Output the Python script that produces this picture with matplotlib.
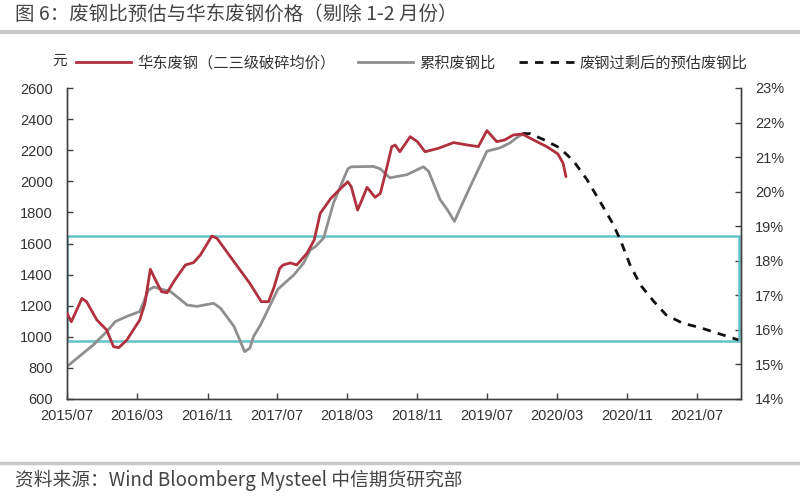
import matplotlib
matplotlib.use("Agg")
import matplotlib.pyplot as plt
from matplotlib.lines import Line2D
from matplotlib.patches import Rectangle
from matplotlib.transforms import blended_transform_factory
import pandas as pd

plt.rcParams['font.family'] = ['Liberation Sans', 'Noto Sans CJK SC', 'DejaVu Sans']

# ---------------- data ----------------
price_dates = ["2015-07-01", "2015-07-16", "2015-08-22", "2015-09-07", "2015-10-13", "2015-11-16",
               "2015-12-10", "2015-12-28", "2016-01-25", "2016-03-10", "2016-03-28", "2016-04-16",
               "2016-05-04", "2016-05-25", "2016-06-13", "2016-07-10", "2016-08-16", "2016-09-13",
               "2016-10-07", "2016-11-16", "2016-12-04", "2017-02-01", "2017-03-28", "2017-05-07",
               "2017-06-01", "2017-06-19", "2017-07-10", "2017-07-22", "2017-08-16", "2017-09-07",
               "2017-10-13", "2017-11-07", "2017-11-28", "2018-01-04", "2018-02-07", "2018-03-04",
               "2018-03-16", "2018-04-07", "2018-04-22", "2018-05-10", "2018-06-07", "2018-06-25",
               "2018-07-10", "2018-08-04", "2018-08-16", "2018-09-01", "2018-10-07", "2018-11-01",
               "2018-11-28", "2019-01-13", "2019-03-07", "2019-04-22", "2019-06-01", "2019-07-01",
               "2019-08-04", "2019-09-01", "2019-10-01", "2019-11-01", "2019-12-10", "2020-01-25",
               "2020-03-04", "2020-03-22", "2020-04-01"]
price_values = [1151, 1097, 1247, 1226, 1108, 1044,
                936, 930, 979, 1108, 1215, 1434,
                1365, 1290, 1283, 1365, 1462, 1477,
                1526, 1648, 1633, 1483, 1344, 1226,
                1226, 1312, 1440, 1462, 1475, 1462,
                1537, 1622, 1794, 1890, 1954, 1997,
                1965, 1815, 1880, 1961, 1897, 1922,
                2030, 2223, 2233, 2190, 2287, 2255,
                2190, 2212, 2249, 2234, 2223, 2326,
                2255, 2266, 2298, 2304, 2266, 2223,
                2176, 2116, 2030]

ratio_dates = ["2015-07-01", "2015-10-01", "2015-11-16", "2015-12-16", "2016-01-25", "2016-03-10",
               "2016-04-10", "2016-04-28", "2016-06-25", "2016-07-16", "2016-08-22", "2016-09-25",
               "2016-11-22", "2016-12-16", "2017-02-01", "2017-03-10", "2017-03-28", "2017-04-10",
               "2017-05-04", "2017-07-04", "2017-08-28", "2017-10-01", "2017-10-25", "2017-11-10",
               "2017-12-10", "2018-01-13", "2018-03-04", "2018-03-16", "2018-06-01", "2018-06-25",
               "2018-07-28", "2018-09-25", "2018-11-22", "2018-12-10", "2019-01-19", "2019-02-13",
               "2019-03-10", "2019-03-28", "2019-05-04", "2019-07-01", "2019-08-16", "2019-09-19",
               "2019-10-19", "2019-11-10"]
ratio_values = [14.94, 15.57, 15.95, 16.24, 16.39, 16.53,
                17.16, 17.24, 17.11, 16.97, 16.72, 16.68,
                16.77, 16.63, 16.10, 15.37, 15.47, 15.81,
                16.14, 17.18, 17.59, 17.93, 18.32, 18.40,
                18.66, 19.67, 20.66, 20.72, 20.73, 20.66,
                20.40, 20.49, 20.72, 20.59, 19.77, 19.48,
                19.14, 19.48, 20.15, 21.17, 21.27, 21.41,
                21.60, 21.68]

forecast_dates = ["2019-11-01", "2019-11-28", "2020-01-13", "2020-03-10", "2020-04-28", "2020-06-13",
                  "2020-07-28", "2020-09-10", "2020-10-07", "2020-11-10", "2020-12-16", "2021-02-01",
                  "2021-03-16", "2021-05-13", "2021-07-10", "2021-09-19", "2021-11-22"]
forecast_values = [21.68, 21.68, 21.51, 21.27, 20.88, 20.35,
                   19.72, 19.09, 18.61, 17.88, 17.30, 16.82,
                   16.43, 16.19, 16.07, 15.88, 15.71]

box_low, box_high = 15.69, 18.72   # ratio band (%)

tick_dates = pd.date_range("2015-07-01", "2021-07-01", freq="8MS")
tick_labels = [d.strftime("%Y/%m") for d in tick_dates]

legend_labels = ["华东废钢（二三级破碎均价）", "累积废钢比", "废钢过剩后的预估废钢比"]
title_text = "图 6：废钢比预估与华东废钢价格（剔除 1-2 月份）"
source_text = "资料来源：Wind Bloomberg Mysteel 中信期货研究部"

# ---------------- style ----------------
RED = "#B0303E"
GRAY = "#8F8F8F"
CYAN = "#62C3CB"
AXC = "#404040"
TXT = "#333333"
CJK = ['Noto Sans CJK SC', 'DejaVu Sans']

fig = plt.figure(figsize=(8, 5), dpi=100)
fig.patch.set_facecolor("white")

ax = fig.add_axes([67/800, 1-399/500, (741-67)/800, (399-88)/500])
ax2 = ax.twinx()

ax.plot(pd.to_datetime(price_dates), price_values, color=RED, lw=2.0, zorder=4,
        solid_joinstyle="round", solid_capstyle="round")
ax2.plot(pd.to_datetime(ratio_dates), ratio_values, color=GRAY, lw=2.0, zorder=3,
         solid_joinstyle="round", solid_capstyle="round")
ax2.plot(pd.to_datetime(forecast_dates), forecast_values, color="#111111", lw=2.0,
         ls=(0, (3, 2.6)), zorder=3)

ax.set_xlim(pd.Timestamp("2015-07-01"), pd.Timestamp("2021-12-01"))
ax.set_ylim(600, 2600)
ax.set_yticks(range(600, 2601, 200))
ax2.set_ylim(14, 23)
ax2.set_yticks(range(14, 24))
ax2.set_yticklabels([f"{v}%" for v in range(14, 24)])
ax.set_xticks(tick_dates)
ax.set_xticklabels(tick_labels)

trans = blended_transform_factory(ax2.transAxes, ax2.transData)
ax2.add_patch(Rectangle((0, box_low), 0.9975, box_high - box_low, transform=trans,
                        fill=False, edgecolor=CYAN, lw=1.8, zorder=2))

for a in (ax, ax2):
    a.spines['top'].set_visible(False)
    for s in ('left', 'right', 'bottom'):
        a.spines[s].set_color(AXC)
        a.spines[s].set_linewidth(1.0)
    a.tick_params(direction='in', length=4, width=1, colors=AXC, labelcolor=TXT, labelsize=10.5)
ax.tick_params(axis='x', pad=7)
ax.tick_params(axis='y', pad=10)
ax2.tick_params(axis='y', pad=10)
ax.set_zorder(ax2.get_zorder() + 1)
ax.patch.set_visible(False)

# y unit label
fig.text(60/800, 1-61/500, "元", ha='center', va='center', fontsize=10.5, color=TXT, family=CJK)

# legend
handles = [Line2D([], [], color=RED, lw=2.0),
           Line2D([], [], color=GRAY, lw=2.0),
           Line2D([], [], color="#111111", lw=2.0, ls=(0, (3, 2.6)))]
leg = fig.legend(handles, legend_labels, loc='center left', bbox_to_anchor=(76/800, 1-63/500),
                 ncol=3, frameon=False, handlelength=3.6, handletextpad=0.4, columnspacing=1.5,
                 prop={'family': CJK, 'size': 11}, borderaxespad=0, borderpad=0)
for t in leg.get_texts():
    t.set_color(TXT)

# title and rules
fig.text(15/800, 1-14/500, title_text, ha='left', va='center', fontsize=14, color="#444444", family=CJK)
fig.add_artist(Line2D([0, 1], [1-32/500, 1-32/500], transform=fig.transFigure, color="#C8C8C8", lw=3))
fig.add_artist(Line2D([0, 1], [1-463/500, 1-463/500], transform=fig.transFigure, color="#C8C8C8", lw=2.5))
fig.text(15/800, 1-480/500, source_text, ha='left', va='center', fontsize=13.5, color="#444444", family=CJK)

fig.savefig("out.png", dpi=100)
